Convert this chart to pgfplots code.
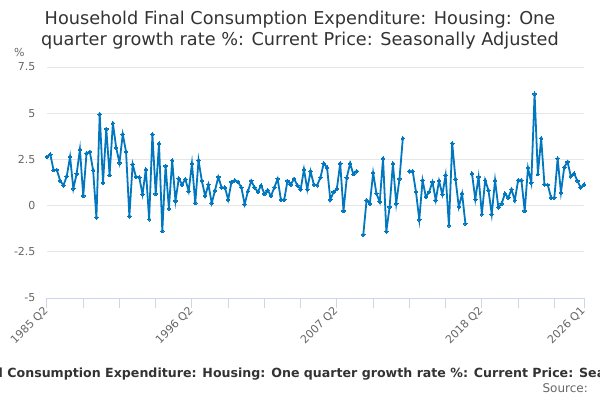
\documentclass[border=0pt]{standalone}
\usepackage{fontspec}
\setmainfont{DejaVu Sans}
\usepackage{pgfplots}
\usepackage{pgfplotstable}
\pgfplotsset{compat=1.18}
\definecolor{linecol}{RGB}{0,119,190}
\definecolor{gridcol}{RGB}{230,230,230}
\definecolor{axcol}{RGB}{204,214,235}
\definecolor{txtcol}{RGB}{102,102,102}
\definecolor{titlecol}{RGB}{51,51,51}
\pgfplotstableread{
i v
0 2.64
1 2.77
2 1.92
3 1.93
4 1.34
5 1.10
6 1.59
7 2.64
8 0.92
9 1.72
10 3.04
11 0.52
12 2.83
13 2.91
14 1.92
15 -0.65
16 4.95
17 1.23
18 4.15
19 1.65
20 4.46
21 3.13
22 2.32
23 3.86
24 2.91
25 -0.58
26 2.24
27 1.55
28 1.54
29 0.61
30 1.96
31 -0.74
32 3.86
33 0.63
34 3.37
35 -1.38
36 2.15
37 -0.16
38 2.45
39 0.25
40 1.47
41 1.14
42 1.43
43 0.78
44 2.28
45 0.14
46 2.45
47 1.34
48 0.52
49 1.14
50 0.14
51 0.82
52 1.55
53 0.98
54 0.98
55 0.32
56 1.28
57 1.37
58 1.28
59 0.98
60 0.07
61 0.78
62 1.34
63 0.98
64 0.74
65 1.09
66 0.63
67 0.83
68 0.52
69 0.98
70 1.45
71 0.32
72 0.32
73 1.34
74 1.14
75 1.45
76 1.10
77 0.88
78 1.96
79 0.88
80 1.86
81 1.14
82 1.10
83 1.52
84 2.28
85 2.07
86 0.32
87 0.74
88 0.92
89 2.28
90 -0.29
91 1.52
92 2.28
93 1.70
94 1.86
95 nan
96 -1.58
97 0.29
98 0.11
99 1.77
100 0.65
101 0.20
102 2.55
103 -1.40
104 -0.07
105 2.28
106 0.11
107 1.45
108 3.64
109 nan
110 1.86
111 1.86
112 0.74
113 -0.76
114 1.37
115 0.47
116 0.74
117 1.28
118 0.29
119 1.34
120 0.60
121 1.65
122 -1.07
123 3.37
124 1.43
125 -0.07
126 0.65
127 -0.98
128 nan
129 1.74
130 0.34
131 1.55
132 -0.47
133 1.37
134 0.83
135 -0.47
136 1.37
137 -0.09
138 0.11
139 0.65
140 0.43
141 0.87
142 0.29
143 1.37
144 1.37
145 -0.29
146 2.04
147 1.23
148 6.05
149 1.70
150 3.64
151 1.14
152 1.12
153 0.43
154 0.43
155 2.55
156 0.71
157 2.07
158 2.37
159 1.59
160 1.74
161 1.34
162 0.98
163 1.14
}\datatable
\begin{document}
\begin{tikzpicture}[x=1pt,y=1pt]
\useasboundingbox (0,0) rectangle (600,400);
\clip (0,0) rectangle (600,400);
\begin{axis}[
  at={(47pt,102pt)}, anchor=south west,
  scale only axis, width=537pt, height=231pt,
  xmin=0, xmax=163, ymin=-5, ymax=7.5,
  axis lines*=left,
  y axis line style={draw=none},
  x axis line style={draw=axcol, line width=1pt},
  xtick={0,44,88,132,163},
  xticklabels={1985 Q2,1996 Q2,2007 Q2,2018 Q2,2026 Q1},
  minor xtick={11,22,33,55,66,77,99,110,121,143,154},
  xtick align=outside,
  major tick length=10pt,
  minor tick length=10pt,
  xtick style={draw=axcol, line width=1pt},
  minor x tick style={draw=axcol, line width=1pt},
  ytick={-5,-2.5,0,2.5,5,7.5},
  yticklabels={-5,-2.5,0,2.5,5,7.5},
  ytick style={draw=none},
  ymajorgrids,
  grid style={draw=gridcol, line width=1pt},
  xticklabel style={rotate=45, anchor=east, font=\fontsize{11}{13}\selectfont, text=txtcol, inner sep=1pt},
  yticklabel style={font=\fontsize{11}{13}\selectfont, text=txtcol, anchor=east, xshift=-8pt},
  unbounded coords=jump,
  clip=false,
]
\addplot[linecol, line width=1.8pt, mark=*, mark size=1.8pt, mark options={fill=linecol, draw=linecol, line width=0pt}] table[x=i, y=v] {\datatable};
\end{axis}
\node[anchor=base, font=\fontsize{17.7}{21}\selectfont, text=titlecol] at (300,375) {Household Final Consumption Expenditure: Housing: One};
\node[anchor=base, font=\fontsize{17.7}{21}\selectfont, text=titlecol] at (300,354) {quarter growth rate \%: Current Price: Seasonally Adjusted};
\node[anchor=base west, font=\fontsize{11}{13}\selectfont, text=txtcol, inner sep=0pt] at (14,344) {\%};
\node[anchor=base, font=\bfseries\fontsize{12.6}{15}\selectfont, text=titlecol, inner sep=0pt] at (306,23) {Household Final Consumption Expenditure: Housing: One quarter growth rate \%: Current Price: Seasonally Adjusted};
\node[anchor=base east, font=\fontsize{12}{14}\selectfont, text=txtcol, inner sep=0pt] at (588,8) {Source:};
\end{tikzpicture}
\end{document}
